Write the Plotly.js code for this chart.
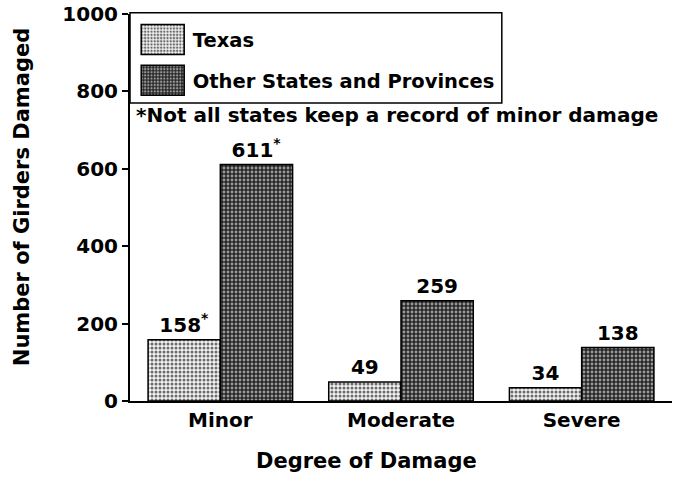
<!DOCTYPE html>
<html>
<head>
<meta charset="utf-8">
<script src="https://cdn.plot.ly/plotly-3.0.1.min.js"></script>
<style>
html,body{margin:0;padding:0;background:#fff;}
#chart{width:678px;height:478px;}
</style>
</head>
<body>
<div id="chart"></div>
<script>
const categories = ["Minor", "Moderate", "Severe"];
const texasValues = [158, 49, 34];
const otherValues = [611, 259, 138];
const texasMarks = ["*", "", ""];
const otherMarks = ["*", "", ""];
const seriesNames = ["Texas", "Other States and Provinces"];
const yTicks = [0, 200, 400, 600, 800, 1000];
const noteText = "*Not all states keep a record of minor damage";

const FONT = "DejaVu Sans, Liberation Sans, Arial, sans-serif";
const F = (s) => ({family: FONT, size: s, color: "#000", weight: "bold"});
const lbl = (vals, marks) => vals.map((v, i) => marks[i] ? v + "<sup>" + marks[i] + "</sup>" : String(v));

const traces = [
  {
    type: "bar", name: seriesNames[0], x: categories, y: texasValues,
    text: lbl(texasValues, texasMarks), textposition: "outside", cliponaxis: false,
    textfont: F(20), constraintext: "none",
    marker: {color: "#e6e6e6", line: {color: "#000", width: 1.5},
      pattern: {shape: ".", bgcolor: "#f2f2f2", fgcolor: "#6a6a6a", size: 4, solidity: 0.45, fillmode: "replace"}},
    legend: "legend"
  },
  {
    type: "bar", name: seriesNames[1], x: categories, y: otherValues,
    text: lbl(otherValues, otherMarks), textposition: "outside", cliponaxis: false,
    textfont: F(20), constraintext: "none",
    marker: {color: "#333", line: {color: "#000", width: 1.5},
      pattern: {shape: ".", bgcolor: "#262626", fgcolor: "#9a9a9a", size: 4, solidity: 0.4, fillmode: "replace"}},
    legend: "legend2"
  }
];

const legendCommon = {
  xanchor: "left", yanchor: "middle", bgcolor: "rgba(0,0,0,0)", borderwidth: 0,
  itemwidth: 50, font: F(19.5)
};

const layout = {
  width: 678, height: 478,
  margin: {l: 130, r: 6, t: 14, b: 77},
  paper_bgcolor: "#fff", plot_bgcolor: "#fff",
  font: F(20),
  barmode: "group", bargap: 0.2, bargroupgap: 0,
  xaxis: {
    type: "category", range: [-0.5, 2.5], showline: true, linecolor: "#000", linewidth: 2,
    ticks: "", showgrid: false, zeroline: false, tickfont: F(20)
  },
  yaxis: {
    range: [0, 1000], tickvals: yTicks, showline: true, linecolor: "#000", linewidth: 2,
    ticks: "outside", ticklen: 6, tickwidth: 2, tickcolor: "#000", showgrid: false, zeroline: false,
    tickfont: F(20)
  },
  legend: Object.assign({x: 0.005, y: 0.933}, legendCommon),
  legend2: Object.assign({x: 0.005, y: 0.828}, legendCommon),
  shapes: [
    {type: "rect", xref: "paper", yref: "paper", x0: 0, x1: 0.686, y0: 0.770, y1: 1.003,
     line: {color: "#000", width: 1.5}, fillcolor: "rgba(0,0,0,0)"}
  ],
  annotations: [
    {text: noteText, xref: "paper", yref: "paper", x: 0.008, y: 0.738, xanchor: "left", yanchor: "middle",
     showarrow: false, font: F(20)},
    {text: "Degree of Damage", xref: "paper", yref: "paper", x: 0.437, y: -0.155, xanchor: "center", yanchor: "middle",
     showarrow: false, font: F(21)},
    {text: "Number of Girders Damaged", xref: "paper", yref: "paper", x: -0.199, y: 0.527, xanchor: "center", yanchor: "middle",
     textangle: -90, showarrow: false, font: F(21)}
  ],
  showlegend: true
};

Plotly.newPlot("chart", traces, layout, {displayModeBar: false, staticPlot: true}).then(function (gd) {
  gd.querySelectorAll(".legendpoints path").forEach(function (p) {
    p.setAttribute("d", "M21.5,15H-21.5V-15H21.5Z");
  });
});
</script>
</body>
</html>
